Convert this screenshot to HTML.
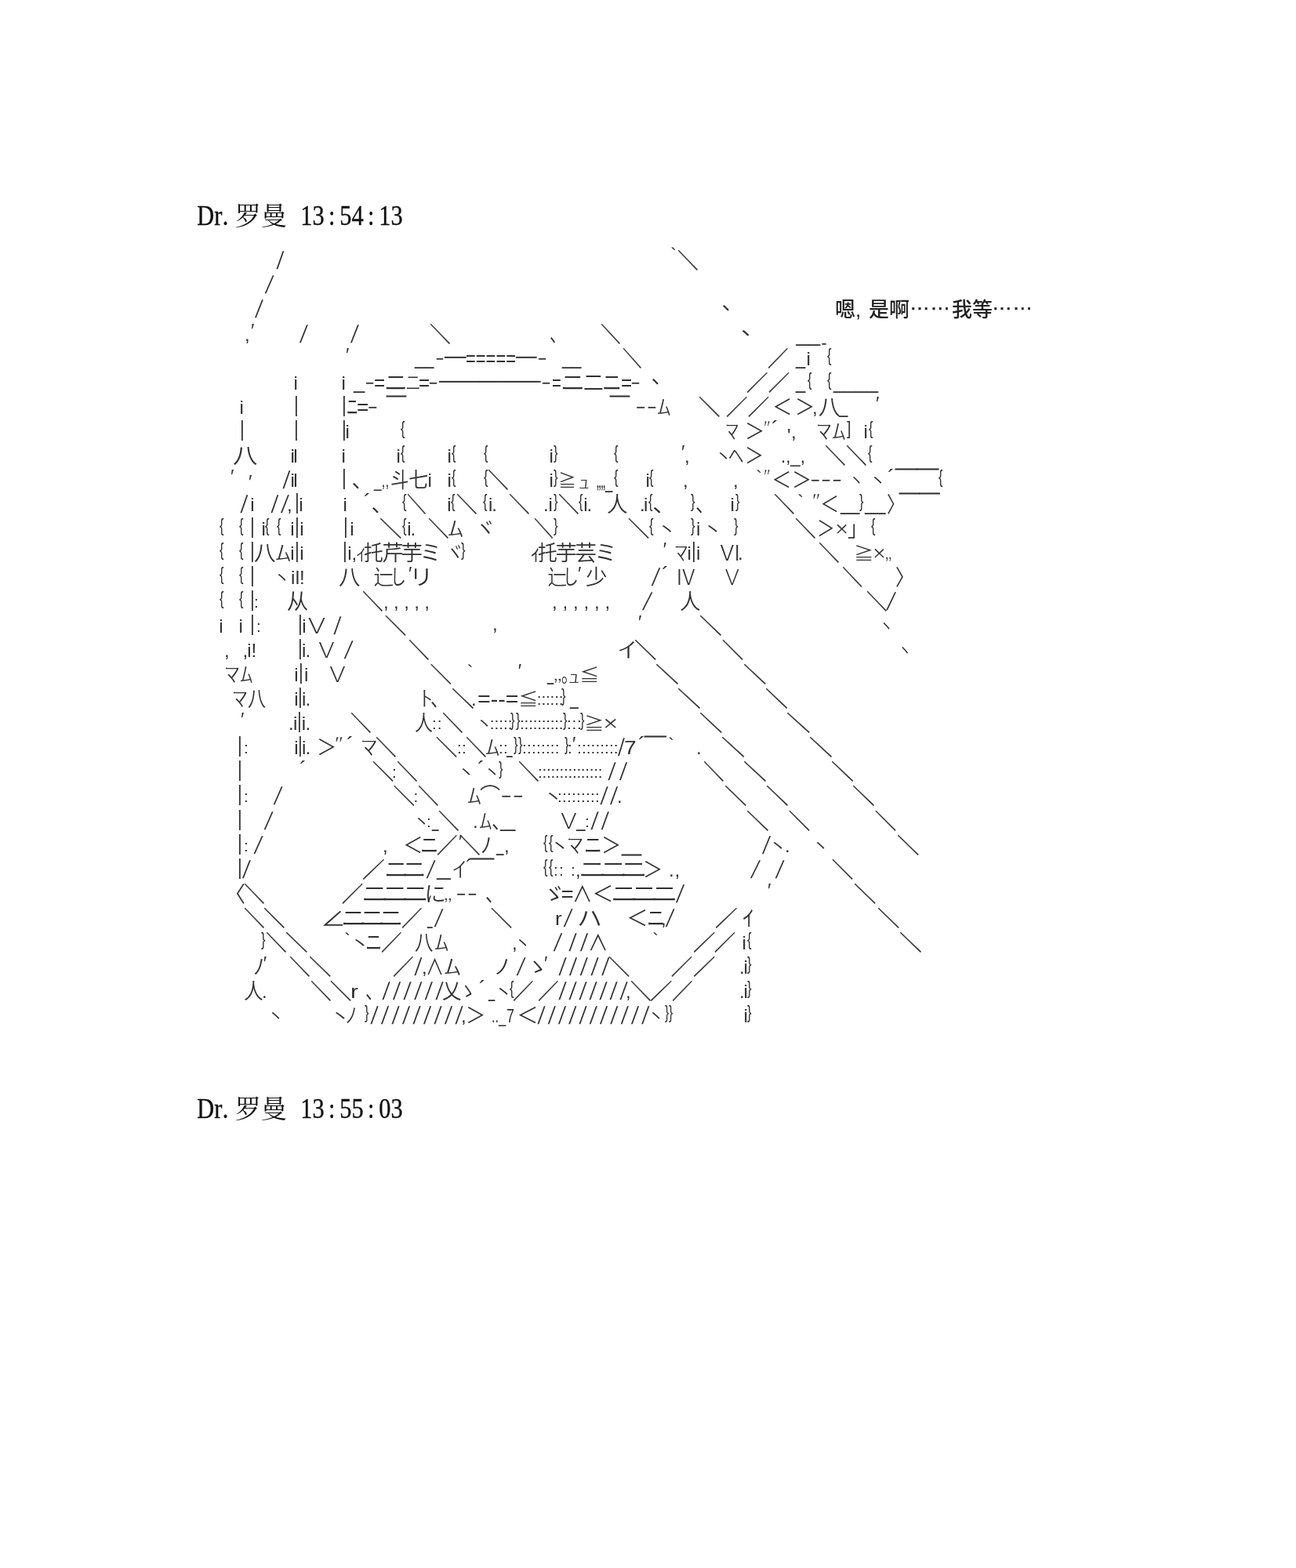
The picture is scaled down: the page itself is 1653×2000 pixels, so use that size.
<!DOCTYPE html>
<html lang="zh">
<head>
<meta charset="utf-8">
<title>Dr.罗曼</title>
<style>
html,body{margin:0;padding:0;background:#fff;}
body{width:1653px;height:2000px;position:relative;overflow:hidden;}
#aa{position:absolute;left:0;top:0;width:1653px;height:2000px;font-family:"Liberation Sans","Noto Sans CJK JP",sans-serif;font-weight:350;font-size:27.6px;line-height:31px;color:#303030;filter:blur(0.4px);}
#aa span{position:absolute;white-space:pre;transform-origin:0 50%;}
#aa .k{-webkit-text-stroke:0.3px #303030;}
#aa .e{-webkit-text-stroke:0.4px #fff;}
#aa .m{-webkit-text-stroke:1px #303030;}
.hd{position:absolute;left:250px;font-family:"Liberation Serif","Noto Serif CJK SC",serif;font-weight:400;font-size:33px;line-height:40px;color:#111;white-space:pre;filter:blur(0.4px);}
.hd span{display:inline-block;text-align:center;}
.hd .c{font-weight:400;transform:scale(.92,1.08);transform-origin:50% 80%;-webkit-text-stroke:0.35px #111;}
.say{position:absolute;left:1065px;top:379px;font-family:"Liberation Sans","Noto Sans CJK SC",sans-serif;font-weight:500;font-size:26px;line-height:32px;color:#222;white-space:pre;filter:blur(0.4px);}
.say span{position:absolute;top:0;}
.say .el{top:-9px;letter-spacing:0.2px;-webkit-text-stroke:0.4px #222;}
</style>
</head>
<body>
<div class="hd" style="top:256px"><span class="c" style="width:33.10px">Dr</span><span class="c" style="width:16.55px;text-align:left">.</span><span class="z" style="width:66.20px">罗曼</span><span class="c" style="width:16.55px"> </span><span class="c" style="width:33.10px">13</span><span class="c" style="width:16.55px">:</span><span class="c" style="width:33.10px">54</span><span class="c" style="width:16.55px">:</span><span class="c" style="width:33.10px">13</span></div>
<div class="hd" style="top:1394.5px"><span class="c" style="width:33.10px">Dr</span><span class="c" style="width:16.55px;text-align:left">.</span><span class="z" style="width:66.20px">罗曼</span><span class="c" style="width:16.55px"> </span><span class="c" style="width:33.10px">13</span><span class="c" style="width:16.55px">:</span><span class="c" style="width:33.10px">55</span><span class="c" style="width:16.55px">:</span><span class="c" style="width:33.10px">03</span></div>
<div class="say"><span style="left:0">嗯</span><span style="left:26px">,</span><span style="left:43px">是啊</span><span class="el" style="left:95px">……</span><span style="left:149px">我等</span><span class="el" style="left:200px">……</span></div>
<div id="aa">
<span style="left:353.7px;top:317.3px;font-size:23.5px;transform:scale(1.000,1.340) skewX(-11.0702deg)">/</span>
<span class="k" style="left:864.2px;top:317.3px;transform:scaleX(0.966)">＼</span>
<span style="left:854.9px;top:309.3px;font-size:24.0px">`</span>
<span style="left:339.7px;top:348.4px;font-size:23.5px;transform:scale(1.000,1.340) skewX(-17.3067deg)">/</span>
<span style="left:327.2px;top:379.4px;font-size:23.5px;transform:scale(1.000,1.340) skewX(-14.2315deg)">/</span>
<span style="left:920.6px;top:370.4px">、</span>
<span style="left:320.1px;top:406.5px;font-size:23.5px">′</span>
<span style="left:311.9px;top:410.5px;font-size:24.0px">,</span>
<span style="left:384.2px;top:410.5px;font-size:23.5px;transform:scale(1.000,1.340) skewX(-14.2315deg)">/</span>
<span style="left:449.2px;top:410.5px;font-size:23.5px;transform:scale(1.000,1.340) skewX(-14.2315deg)">/</span>
<span class="k" style="left:548.2px;top:410.5px;transform:scaleX(0.966)">＼</span>
<span style="left:701.0px;top:410.5px;transform:scaleX(0.750)">、</span>
<span class="k" style="left:766.2px;top:410.5px;transform:scaleX(0.928)">＼</span>
<span style="left:944.5px;top:401.5px;transform:scaleX(1.125)">、</span>
<span style="left:1015.5px;top:409.5px">__</span>
<span class="e" style="left:1047.0px;top:420.5px;transform:scaleX(0.873)">-</span>
<span style="left:441.1px;top:437.5px;font-size:23.5px">′</span>
<span style="left:529.4px;top:438.5px;transform:scaleX(0.791)">__</span>
<span class="e" style="left:554.5px;top:439.5px;transform:scaleX(1.309)">-</span>
<span style="left:567.4px;top:438.5px;transform:scaleX(1.400)">─</span>
<span style="left:594.0px;top:441.5px;transform:scaleX(0.794)">=====</span>
<span style="left:658.3px;top:438.5px;transform:scaleX(1.350)">─</span>
<span class="e" style="left:685.4px;top:439.5px;transform:scaleX(1.455)">-</span>
<span style="left:717.4px;top:438.5px;transform:scaleX(0.791)">__</span>
<span class="k" style="left:794.2px;top:441.5px;transform:scaleX(0.889)">＼</span>
<span class="k" style="left:979.2px;top:441.5px;transform:scaleX(0.966)">／</span>
<span style="left:1015.4px;top:438.5px;transform:scaleX(0.800)">_</span>
<span style="left:1028.5px;top:441.5px;font-size:24.0px">i</span>
<span style="left:1054.7px;top:436.5px;font-size:24.0px;transform:scaleX(0.690)">{</span>
<span style="left:374.5px;top:472.6px;font-size:24.0px">i</span>
<span style="left:435.5px;top:472.6px;font-size:24.0px">i</span>
<span style="left:450.5px;top:469.6px;transform:scaleX(0.923)">_</span>
<span class="e" style="left:465.4px;top:470.6px;transform:scaleX(1.455)">-</span>
<span style="left:476.9px;top:472.6px;transform:scaleX(0.881)">=</span>
<span style="left:490.3px;top:472.6px;transform:scaleX(1.091)">ニ</span>
<span style="left:517.2px;top:472.6px;transform:scaleX(1.407);font-weight:300">ﾆ</span>
<span style="left:533.9px;top:472.6px;transform:scaleX(0.881)">=</span>
<span class="e" style="left:546.4px;top:470.6px;transform:scaleX(1.455)">-</span>
<span style="left:560.3px;top:469.6px;transform:scaleX(1.324)">─────</span>
<span class="e" style="left:690.4px;top:470.6px;transform:scaleX(1.455)">-</span>
<span style="left:704.1px;top:472.6px;transform:scaleX(0.734)">=</span>
<span style="left:715.2px;top:472.6px;transform:scaleX(1.136)">ニ</span>
<span style="left:743.6px;top:472.6px;transform:scaleX(0.934)">二</span>
<span style="left:767.7px;top:472.6px;transform:scaleX(0.909)">ニ</span>
<span style="left:791.9px;top:472.6px;transform:scaleX(0.881)">=</span>
<span class="e" style="left:804.4px;top:470.6px;transform:scaleX(1.455)">-</span>
<span style="left:830.6px;top:463.6px">、</span>
<span class="k" style="left:952.1px;top:472.6px">／／</span>
<span style="left:1015.4px;top:469.6px;transform:scaleX(0.800)">_</span>
<span style="left:1029.7px;top:467.6px;font-size:24.0px;transform:scaleX(0.690)">{</span>
<span style="left:1054.7px;top:467.6px;font-size:24.0px;transform:scaleX(0.690)">{</span>
<span style="left:1062.5px;top:469.6px;transform:scaleX(0.931)">____</span>
<span style="left:305.5px;top:503.6px;font-size:24.0px">i</span>
<span style="left:375.1px;top:499.6px;transform:scaleX(0.800)">|</span>
<span style="left:436.1px;top:499.6px;transform:scaleX(0.800)">|</span>
<span style="left:441.7px;top:503.6px;transform:scaleX(1.055)">ﾆ</span>
<span style="left:454.8px;top:503.6px;transform:scaleX(0.954)">=</span>
<span class="e" style="left:468.2px;top:501.6px;transform:scaleX(1.600)">-</span>
<span class="m" style="left:493.0px;top:503.6px;transform:scaleX(0.905)">￣</span>
<span class="m" style="left:778.0px;top:503.6px;transform:scaleX(0.905)">￣</span>
<span class="e" style="left:810.2px;top:501.6px;transform:scaleX(1.556)">--</span>
<span style="left:838.2px;top:503.6px;transform:scaleX(1.293);font-weight:300">ﾑ</span>
<span class="k" style="left:891.1px;top:503.6px">＼</span>
<span class="k" style="left:926.1px;top:503.6px">／／</span>
<span style="left:985.3px;top:503.6px;transform:scaleX(0.925)">＜</span>
<span style="left:1014.1px;top:503.6px;transform:scaleX(0.925)">＞</span>
<span style="left:1035.9px;top:503.6px;font-size:24.0px">,</span>
<span style="left:1043.9px;top:503.6px">八</span>
<span style="left:1070.4px;top:500.6px;transform:scaleX(0.738)">_</span>
<span style="left:1117.1px;top:499.6px;font-size:23.5px">′</span>
<span style="left:306.1px;top:530.6px;transform:scaleX(0.800)">|</span>
<span style="left:375.1px;top:530.6px;transform:scaleX(0.800)">|</span>
<span style="left:436.1px;top:530.6px;transform:scaleX(0.800)">|</span>
<span style="left:440.4px;top:534.6px;font-size:24.0px">i</span>
<span style="left:510.7px;top:529.6px;font-size:24.0px;transform:scaleX(0.690)">{</span>
<span style="left:925.4px;top:534.6px;transform:scaleX(1.263);font-weight:300">ﾏ</span>
<span style="left:950.1px;top:534.6px;transform:scaleX(0.925)">＞</span>
<span class="e" style="left:974.1px;top:530.6px;font-size:23.5px">″</span>
<span style="left:984.1px;top:530.6px">´</span>
<span style="left:1003.9px;top:539.6px;font-size:24.0px">&#x27;</span>
<span style="left:1008.9px;top:534.6px;font-size:24.0px">,</span>
<span style="left:1041.2px;top:534.6px;transform:scaleX(1.432);font-weight:300">ﾏ</span>
<span style="left:1061.2px;top:534.6px;transform:scaleX(1.293);font-weight:300">ﾑ</span>
<span style="left:1079.9px;top:529.6px;font-size:24.0px;transform:scaleX(0.821)">]</span>
<span style="left:1101.5px;top:534.6px;font-size:24.0px">i</span>
<span style="left:1107.7px;top:529.6px;font-size:24.0px;transform:scaleX(0.690)">{</span>
<span style="left:296.7px;top:565.7px;transform:scaleX(1.143)">八</span>
<span style="left:370.5px;top:565.7px;font-size:24.0px">i</span>
<span style="left:374.2px;top:565.7px;font-size:24.0px">l</span>
<span style="left:435.5px;top:565.7px;font-size:24.0px">i</span>
<span style="left:505.5px;top:565.7px;font-size:24.0px">i</span>
<span style="left:510.7px;top:560.7px;font-size:24.0px;transform:scaleX(0.690)">{</span>
<span style="left:570.5px;top:565.7px;font-size:24.0px">i</span>
<span style="left:575.7px;top:560.7px;font-size:24.0px;transform:scaleX(0.690)">{</span>
<span style="left:616.7px;top:560.7px;font-size:24.0px;transform:scaleX(0.690)">{</span>
<span style="left:700.5px;top:565.7px;font-size:24.0px">i</span>
<span style="left:705.7px;top:560.7px;font-size:24.0px;transform:scaleX(0.690)">}</span>
<span style="left:782.7px;top:560.7px;font-size:24.0px;transform:scaleX(0.690)">{</span>
<span style="left:869.1px;top:561.7px;font-size:23.5px">′</span>
<span style="left:872.9px;top:565.7px;font-size:24.0px">,</span>
<span style="left:911.4px;top:565.7px;transform:scale(0.808,0.680)">ヽ</span>
<span style="left:929.3px;top:565.7px;transform:scaleX(1.426);font-weight:300">ﾍ</span>
<span style="left:950.3px;top:565.7px;transform:scaleX(0.879)">＞</span>
<span style="left:996.0px;top:565.7px;font-size:24.0px;transform:scaleX(0.925)">.,_,</span>
<span class="k" style="left:1052.2px;top:565.7px;transform:scaleX(0.966)">＼</span>
<span class="k" style="left:1079.2px;top:565.7px;transform:scaleX(0.966)">＼</span>
<span style="left:1106.7px;top:560.7px;font-size:24.0px;transform:scaleX(0.690)">{</span>
<span style="left:294.1px;top:592.8px;font-size:23.5px">′</span>
<span style="left:317.1px;top:599.8px;font-size:23.5px">′</span>
<span style="left:361.7px;top:596.8px;font-size:23.5px;transform:scale(1.000,1.340) skewX(-11.0702deg)">/</span>
<span style="left:370.5px;top:596.8px;font-size:24.0px">i</span>
<span style="left:374.2px;top:596.8px;font-size:24.0px">l</span>
<span style="left:436.1px;top:592.8px;transform:scaleX(0.800)">|</span>
<span style="left:448.6px;top:596.8px">、</span>
<span style="left:477.3px;top:596.8px;font-size:24.0px;transform:scaleX(0.719)">_,,</span>
<span style="left:497.6px;top:596.8px;transform:scaleX(0.857)">斗</span>
<span style="left:520.7px;top:596.8px;transform:scaleX(0.920)">七</span>
<span style="left:545.5px;top:596.8px;font-size:24.0px">i</span>
<span style="left:570.5px;top:596.8px;font-size:24.0px">i</span>
<span style="left:575.7px;top:591.8px;font-size:24.0px;transform:scaleX(0.690)">{</span>
<span style="left:616.7px;top:591.8px;font-size:24.0px;transform:scaleX(0.690)">{</span>
<span class="k" style="left:622.2px;top:596.8px;transform:scaleX(0.966)">＼</span>
<span style="left:700.5px;top:596.8px;font-size:24.0px">i</span>
<span style="left:705.7px;top:591.8px;font-size:24.0px;transform:scaleX(0.690)">}</span>
<span style="left:712.3px;top:596.8px;transform:scale(0.837,0.760)">≧</span>
<span style="left:736.6px;top:598.8px;transform:scale(1.143,0.800);font-weight:300">ｭ</span>
<span style="left:761.4px;top:596.8px;transform:scaleX(0.604)">„„_</span>
<span style="left:782.7px;top:591.8px;font-size:24.0px;transform:scaleX(0.690)">{</span>
<span style="left:823.5px;top:596.8px;font-size:24.0px">i</span>
<span style="left:827.7px;top:591.8px;font-size:24.0px;transform:scaleX(0.690)">{</span>
<span style="left:870.9px;top:596.8px;font-size:24.0px">,</span>
<span style="left:934.9px;top:596.8px;font-size:24.0px">,</span>
<span style="left:963.9px;top:592.8px;font-size:24.0px">`</span>
<span class="e" style="left:974.1px;top:592.8px;font-size:23.5px">″</span>
<span style="left:984.3px;top:596.8px;transform:scaleX(0.925)">＜</span>
<span style="left:1010.1px;top:596.8px;transform:scaleX(0.925)">＞</span>
<span class="e" style="left:1033.3px;top:594.8px;transform:scaleX(1.505)">---</span>
<span style="left:1082.1px;top:596.8px;transform:scale(0.727,0.680)">ヽ</span>
<span style="left:1108.4px;top:596.8px;transform:scale(0.808,0.680)">ヽ</span>
<span style="left:1132.1px;top:592.8px">´</span>
<span class="m" style="left:1142.0px;top:596.8px">￣￣</span>
<span style="left:1196.7px;top:591.8px;font-size:24.0px;transform:scaleX(0.690)">{</span>
<span style="left:308.4px;top:627.8px;font-size:23.5px;transform:scale(1.000,1.340) skewX(-11.0702deg)">/</span>
<span style="left:319.2px;top:627.8px;font-size:24.0px">i</span>
<span style="left:346.7px;top:627.8px;font-size:23.5px;transform:scale(1.000,1.340) skewX(-11.0702deg)">/</span>
<span style="left:360.2px;top:627.8px;font-size:23.5px;transform:scale(1.000,1.340) skewX(-14.2315deg)">/</span>
<span style="left:365.9px;top:627.8px;font-size:24.0px">,</span>
<span style="left:376.1px;top:623.8px;transform:scaleX(0.800)">|</span>
<span style="left:381.2px;top:627.8px;font-size:24.0px">i</span>
<span style="left:437.5px;top:627.8px;font-size:24.0px">i</span>
<span style="left:464.1px;top:623.8px">´</span>
<span style="left:473.6px;top:627.8px">、</span>
<span style="left:512.7px;top:622.8px;font-size:24.0px;transform:scaleX(0.690)">{</span>
<span class="k" style="left:519.2px;top:627.8px;transform:scaleX(0.889)">＼</span>
<span style="left:570.2px;top:627.8px;font-size:24.0px">i</span>
<span style="left:574.7px;top:622.8px;font-size:24.0px;transform:scaleX(0.690)">{</span>
<span class="k" style="left:582.2px;top:627.8px;transform:scaleX(0.966)">＼</span>
<span style="left:616.4px;top:622.8px;font-size:24.0px;transform:scaleX(0.690)">{</span>
<span style="left:622.9px;top:627.8px;font-size:24.0px">i</span>
<span style="left:627.2px;top:627.8px;font-size:24.0px">.</span>
<span class="k" style="left:649.2px;top:627.8px;transform:scaleX(0.966)">＼</span>
<span style="left:692.9px;top:627.8px;font-size:24.0px">.</span>
<span style="left:699.4px;top:627.8px;font-size:24.0px">i</span>
<span style="left:706.4px;top:622.8px;font-size:24.0px;transform:scaleX(0.690)">}</span>
<span class="k" style="left:712.2px;top:627.8px;transform:scaleX(0.966)">＼</span>
<span style="left:737.7px;top:622.8px;font-size:24.0px;transform:scaleX(0.690)">{</span>
<span style="left:744.2px;top:627.8px;font-size:24.0px">i</span>
<span style="left:748.5px;top:627.8px;font-size:24.0px">.</span>
<span style="left:774.2px;top:627.8px;transform:scaleX(0.962)">人</span>
<span style="left:815.9px;top:627.8px;font-size:24.0px">.</span>
<span style="left:821.1px;top:627.8px;font-size:24.0px">i</span>
<span style="left:826.7px;top:622.8px;font-size:24.0px;transform:scaleX(0.690)">{</span>
<span style="left:831.5px;top:627.8px;transform:scaleX(1.125)">、</span>
<span style="left:881.4px;top:622.8px;font-size:24.0px;transform:scaleX(0.690)">}</span>
<span style="left:886.8px;top:627.8px;transform:scaleX(0.875)">、</span>
<span style="left:931.5px;top:627.8px;font-size:24.0px">i</span>
<span style="left:937.7px;top:622.8px;font-size:24.0px;transform:scaleX(0.690)">}</span>
<span class="k" style="left:987.2px;top:627.8px;transform:scaleX(0.966)">＼</span>
<span style="left:1016.9px;top:623.8px;font-size:24.0px">`</span>
<span class="e" style="left:1035.7px;top:623.8px;font-size:23.5px;transform:scaleX(1.186)">″</span>
<span style="left:1045.5px;top:627.8px;transform:scaleX(0.879)">＜</span>
<span style="left:1072.1px;top:624.8px;transform:scaleX(0.791)">__</span>
<span style="left:1096.4px;top:622.8px;font-size:24.0px;transform:scaleX(0.690)">}</span>
<span style="left:1103.3px;top:624.8px;transform:scaleX(0.575)">___</span>
<span style="left:1130.5px;top:627.8px;transform:scaleX(0.841)">〉</span>
<span class="m" style="left:1146.7px;top:627.8px;transform:scaleX(0.929)">￣￣</span>
<span style="left:279.7px;top:653.9px;font-size:24.0px;transform:scaleX(0.690)">{</span>
<span style="left:304.7px;top:653.9px;font-size:24.0px;transform:scaleX(0.690)">{</span>
<span style="left:318.8px;top:654.9px;transform:scaleX(0.800)">|</span>
<span style="left:333.5px;top:658.9px;font-size:24.0px">i</span>
<span style="left:337.7px;top:653.9px;font-size:24.0px;transform:scaleX(0.690)">{</span>
<span style="left:352.7px;top:653.9px;font-size:24.0px;transform:scaleX(0.690)">{</span>
<span style="left:370.2px;top:658.9px;font-size:24.0px">i</span>
<span style="left:376.0px;top:654.9px;transform:scaleX(0.800)">|</span>
<span style="left:382.2px;top:658.9px;font-size:24.0px">i</span>
<span style="left:438.1px;top:654.9px;transform:scaleX(0.800)">|</span>
<span style="left:446.2px;top:658.9px;font-size:24.0px">i</span>
<span class="k" style="left:484.1px;top:658.9px;transform:scaleX(1.032)">＼</span>
<span style="left:512.7px;top:653.9px;font-size:24.0px;transform:scaleX(0.690)">{</span>
<span style="left:519.2px;top:658.9px;font-size:24.0px">i</span>
<span style="left:523.5px;top:658.9px;font-size:24.0px">.</span>
<span class="k" style="left:545.9px;top:658.9px;transform:scaleX(0.966)">＼</span>
<span style="left:570.8px;top:658.9px;transform:scaleX(1.479);font-weight:300">ﾑ</span>
<span style="left:605.8px;top:658.9px;transform:scaleX(0.957)">ヾ</span>
<span class="k" style="left:680.9px;top:658.9px;transform:scaleX(0.900)">＼</span>
<span style="left:705.7px;top:653.9px;font-size:24.0px;transform:scaleX(0.690)">}</span>
<span class="k" style="left:800.8px;top:658.9px">＼</span>
<span style="left:827.7px;top:653.9px;font-size:24.0px;transform:scaleX(0.690)">{</span>
<span style="left:837.3px;top:658.9px;transform:scale(0.945,0.680)">ヽ</span>
<span style="left:881.4px;top:653.9px;font-size:24.0px;transform:scaleX(0.690)">}</span>
<span style="left:888.0px;top:658.9px;font-size:24.0px">i</span>
<span style="left:895.1px;top:658.9px;transform:scale(0.970,0.680)">ヽ</span>
<span style="left:936.4px;top:653.9px;font-size:24.0px;transform:scaleX(0.690)">}</span>
<span class="k" style="left:1014.2px;top:658.9px;transform:scaleX(0.966)">＼</span>
<span style="left:1042.4px;top:658.9px;transform:scaleX(0.832)">＞</span>
<span class="e" style="left:1064.7px;top:658.9px;transform:scaleX(1.075)">×</span>
<span style="left:1080.9px;top:658.9px;transform:scaleX(0.949)">｣</span>
<span style="left:1111.4px;top:653.9px;font-size:24.0px;transform:scaleX(0.690)">{</span>
<span style="left:279.7px;top:684.9px;font-size:24.0px;transform:scaleX(0.690)">{</span>
<span style="left:304.7px;top:684.9px;font-size:24.0px;transform:scaleX(0.690)">{</span>
<span style="left:318.8px;top:685.9px;transform:scaleX(0.800)">|</span>
<span style="left:323.9px;top:689.9px">八</span>
<span style="left:350.8px;top:689.9px;transform:scaleX(1.479);font-weight:300">ﾑ</span>
<span style="left:370.2px;top:689.9px;font-size:24.0px">i</span>
<span style="left:376.0px;top:685.9px;transform:scaleX(0.800)">|</span>
<span style="left:382.2px;top:689.9px;font-size:24.0px">i</span>
<span style="left:437.4px;top:685.9px;transform:scaleX(0.800)">|</span>
<span style="left:443.2px;top:689.9px;font-size:24.0px">i</span>
<span style="left:448.4px;top:689.9px;font-size:24.0px">,</span>
<span style="left:453.0px;top:689.9px;transform:scaleX(1.159);font-weight:300">ｨ</span>
<span style="left:464.2px;top:689.9px;transform:scaleX(0.898)">托</span>
<span style="left:487.3px;top:689.9px">芹</span>
<span style="left:511.5px;top:689.9px">芋</span>
<span style="left:535.6px;top:689.9px">ミ</span>
<span style="left:568.8px;top:689.9px;transform:scaleX(0.821)">ヾ</span>
<span style="left:587.7px;top:684.9px;font-size:24.0px;transform:scaleX(0.690)">}</span>
<span style="left:676.2px;top:689.9px;transform:scaleX(1.043)">ｨ</span>
<span style="left:686.2px;top:689.9px;transform:scaleX(0.898)">托</span>
<span style="left:708.5px;top:689.9px">芋</span>
<span style="left:733.6px;top:689.9px">芸</span>
<span style="left:758.4px;top:689.9px;transform:scaleX(1.056)">ミ</span>
<span style="left:845.8px;top:685.9px;font-size:23.5px">′</span>
<span style="left:860.1px;top:689.9px;transform:scaleX(1.263);font-weight:300">ﾏ</span>
<span style="left:876.5px;top:689.9px;font-size:24.0px">i</span>
<span style="left:882.0px;top:685.9px;transform:scaleX(0.800)">|</span>
<span style="left:888.0px;top:689.9px;font-size:24.0px">i</span>
<span style="left:915.7px;top:689.9px;transform:scaleX(1.135);font-weight:300">Ⅵ</span>
<span style="left:940.9px;top:689.9px;font-size:24.0px">.</span>
<span class="k" style="left:1044.2px;top:689.9px;transform:scaleX(0.966)">＼</span>
<span style="left:1088.7px;top:689.9px;transform:scale(0.930,0.760)">≧</span>
<span class="e" style="left:1113.0px;top:689.9px;transform:scaleX(1.051)">×</span>
<span class="e" style="left:1129.2px;top:689.9px;font-size:23.5px;transform:scaleX(1.072)">„</span>
<span style="left:279.7px;top:716.0px;font-size:24.0px;transform:scaleX(0.690)">{</span>
<span style="left:304.7px;top:716.0px;font-size:24.0px;transform:scaleX(0.690)">{</span>
<span style="left:318.8px;top:717.0px;transform:scaleX(0.800)">|</span>
<span style="left:348.4px;top:721.0px;transform:scale(0.808,0.680)">ヽ</span>
<span style="left:371.0px;top:721.0px;font-size:24.0px">i</span>
<span style="left:376.8px;top:721.0px;font-size:24.0px">l</span>
<span style="left:382.0px;top:721.0px;font-size:24.0px">!</span>
<span style="left:431.9px;top:721.0px">八</span>
<span style="left:475.9px;top:721.0px;transform:scaleX(0.941)">辷</span>
<span style="left:498.2px;top:721.0px;transform:scaleX(0.717)">し</span>
<span style="left:521.1px;top:717.0px;font-size:23.5px">′</span>
<span style="left:522.2px;top:721.0px;transform:scaleX(1.115)">リ</span>
<span style="left:698.0px;top:721.0px;transform:scaleX(0.902)">辷</span>
<span style="left:718.2px;top:721.0px;transform:scaleX(0.717)">し</span>
<span style="left:737.1px;top:717.0px;font-size:23.5px">′</span>
<span style="left:747.0px;top:721.0px">少</span>
<span style="left:832.5px;top:721.0px;font-size:23.5px;transform:scale(1.000,1.340) skewX(-16.394deg)">/</span>
<span style="left:844.1px;top:717.0px">´</span>
<span style="left:860.1px;top:721.0px;transform:scaleX(1.040);font-weight:300">Ⅳ</span>
<span style="left:920.1px;top:721.0px;font-weight:300">Ｖ</span>
<span class="k" style="left:1074.2px;top:721.0px;transform:scaleX(0.947)">＼</span>
<span style="left:1141.8px;top:721.0px;transform:scaleX(0.881)">〉</span>
<span style="left:279.7px;top:747.0px;font-size:24.0px;transform:scaleX(0.690)">{</span>
<span style="left:304.7px;top:747.0px;font-size:24.0px;transform:scaleX(0.690)">{</span>
<span style="left:318.8px;top:748.0px;transform:scaleX(0.800)">|</span>
<span style="left:324.1px;top:752.0px;font-size:20.7px">:</span>
<span style="left:365.7px;top:752.0px">从</span>
<span class="k" style="left:462.2px;top:752.0px;transform:scaleX(0.966)">＼</span>
<span style="left:488.9px;top:752.0px;font-size:24.0px;letter-spacing:6.45px">,,,,,</span>
<span style="left:703.9px;top:752.0px;font-size:24.0px;letter-spacing:6.83px">,,,,,,</span>
<span style="left:821.5px;top:752.0px;font-size:23.5px;transform:scale(1.000,1.340) skewX(-22.3007deg)">/</span>
<span style="left:867.2px;top:752.0px;transform:scaleX(0.962)">人</span>
<span class="k" style="left:1105.2px;top:752.0px;transform:scaleX(0.966)">＼</span>
<span style="left:1133.2px;top:752.0px;font-size:23.5px;transform:scale(1.000,1.340) skewX(-20.2826deg)">/</span>
<span style="left:279.2px;top:783.0px;font-size:24.0px">i</span>
<span style="left:304.5px;top:783.0px;font-size:24.0px">i</span>
<span style="left:318.8px;top:779.0px;transform:scaleX(0.800)">|</span>
<span style="left:327.1px;top:783.0px;font-size:20.7px">:</span>
<span style="left:379.8px;top:779.0px;transform:scaleX(0.800)">|</span>
<span style="left:385.2px;top:783.0px;font-size:24.0px">i</span>
<span style="left:387.0px;top:783.0px;transform:scaleX(1.231);font-weight:300">Ｖ</span>
<span style="left:426.7px;top:783.0px;font-size:23.5px;transform:scale(1.000,1.340) skewX(-11.0702deg)">/</span>
<span class="k" style="left:490.8px;top:783.0px">＼</span>
<span style="left:627.9px;top:780.0px;font-size:24.0px">,</span>
<span style="left:814.1px;top:779.0px;font-size:23.5px">′</span>
<span class="k" style="left:892.1px;top:783.0px;transform:scaleX(1.043)">＼</span>
<span style="left:1121.3px;top:783.0px;transform:scale(0.671,0.680)">ヽ</span>
<span style="left:285.9px;top:814.1px;font-size:24.0px">,</span>
<span style="left:309.6px;top:814.1px;font-size:24.0px">,</span>
<span style="left:315.2px;top:814.1px;font-size:24.0px">i</span>
<span style="left:320.5px;top:814.1px;font-size:24.0px">!</span>
<span style="left:379.8px;top:810.1px;transform:scaleX(0.800)">|</span>
<span style="left:385.0px;top:814.1px;font-size:24.0px">i</span>
<span style="left:389.5px;top:814.1px;font-size:24.0px">.</span>
<span style="left:401.2px;top:814.1px;transform:scaleX(1.119);font-weight:300">Ｖ</span>
<span style="left:440.7px;top:814.1px;font-size:23.5px;transform:scale(1.000,1.340) skewX(-17.3067deg)">/</span>
<span class="k" style="left:520.9px;top:814.1px;transform:scaleX(0.966)">＼</span>
<span style="left:788.4px;top:814.1px;transform:scaleX(1.818);font-weight:300">ｲ</span>
<span class="k" style="left:809.1px;top:814.1px;transform:scaleX(1.032)">＼</span>
<span class="k" style="left:920.8px;top:814.1px">＼</span>
<span style="left:1144.7px;top:814.1px;transform:scale(0.646,0.680)">ヽ</span>
<span style="left:286.2px;top:845.2px;transform:scaleX(1.432);font-weight:300">ﾏ</span>
<span style="left:305.9px;top:845.2px;transform:scaleX(1.212);font-weight:300">ﾑ</span>
<span style="left:375.2px;top:845.2px;font-size:24.0px">i</span>
<span style="left:381.4px;top:841.2px;transform:scaleX(0.800)">|</span>
<span style="left:387.9px;top:845.2px;font-size:24.0px">i</span>
<span style="left:414.5px;top:845.2px;transform:scaleX(1.119);font-weight:300">Ｖ</span>
<span class="k" style="left:548.4px;top:845.2px">＼</span>
<span style="left:595.6px;top:841.2px;font-size:24.0px">`</span>
<span style="left:660.8px;top:841.2px;font-size:23.5px">′</span>
<span style="left:698.3px;top:842.2px;transform:scaleX(0.535)">_</span>
<span class="e" style="left:705.7px;top:845.2px;font-size:23.5px;transform:scaleX(1.328)">„</span>
<span style="left:716.1px;top:845.2px;transform:scaleX(0.741)">｡</span>
<span style="left:724.2px;top:847.2px;transform:scale(1.174,0.800);font-weight:300">ｭ</span>
<span style="left:739.2px;top:845.2px;transform:scale(0.925,0.760)">≦</span>
<span class="k" style="left:836.1px;top:845.2px;transform:scaleX(1.082)">＼</span>
<span class="k" style="left:948.1px;top:845.2px;transform:scaleX(1.071)">＼</span>
<span style="left:296.2px;top:876.2px;transform:scaleX(1.432);font-weight:300">ﾏ</span>
<span style="left:315.8px;top:876.2px;transform:scaleX(0.839)">八</span>
<span style="left:375.2px;top:876.2px;font-size:24.0px">i</span>
<span style="left:379.9px;top:872.2px;transform:scaleX(0.800)">|</span>
<span style="left:385.0px;top:876.2px;font-size:24.0px">i</span>
<span style="left:389.5px;top:876.2px;font-size:24.0px">.</span>
<span style="left:534.8px;top:876.2px;transform:scaleX(1.290);font-weight:300">ﾄ</span>
<span style="left:548.8px;top:876.2px;transform:scaleX(0.838)">、</span>
<span class="k" style="left:576.1px;top:876.2px;transform:scaleX(1.043)">＼</span>
<span style="left:600.9px;top:876.2px;font-size:24.0px">.</span>
<span style="left:608.7px;top:876.2px;transform:scaleX(1.039)">=--=</span>
<span style="left:660.5px;top:876.2px;transform:scale(0.925,0.760)">≦</span>
<span style="left:684.8px;top:876.2px;font-size:20.7px;letter-spacing:-0.15px">::::::</span>
<span style="left:716.4px;top:871.2px;font-size:24.0px;transform:scaleX(0.690)">}</span>
<span style="left:727.0px;top:873.2px;transform:scaleX(0.695)">_</span>
<span class="k" style="left:864.1px;top:876.2px;transform:scaleX(1.082)">＼</span>
<span class="k" style="left:975.8px;top:876.2px;transform:scaleX(1.055)">＼</span>
<span style="left:307.1px;top:903.2px;font-size:23.5px">′</span>
<span style="left:367.9px;top:907.2px;font-size:24.0px">.</span>
<span style="left:374.1px;top:907.2px;font-size:24.0px">i</span>
<span style="left:379.1px;top:903.2px;transform:scaleX(0.800)">|</span>
<span style="left:384.7px;top:907.2px;font-size:24.0px">i</span>
<span style="left:389.5px;top:907.2px;font-size:24.0px">.</span>
<span class="k" style="left:447.2px;top:907.2px;transform:scaleX(0.966)">＼</span>
<span style="left:529.3px;top:907.2px;transform:scaleX(0.835)">人</span>
<span style="left:551.1px;top:907.2px;font-size:20.7px;letter-spacing:0.95px">::</span>
<span class="k" style="left:564.2px;top:907.2px;transform:scaleX(0.966)">＼</span>
<span style="left:606.4px;top:907.2px;transform:scale(0.808,0.680)">ヽ</span>
<span style="left:624.8px;top:907.2px;font-size:20.7px">:::::</span>
<span style="left:651.4px;top:902.2px;font-size:24.0px;transform:scaleX(0.690)">}</span>
<span style="left:657.7px;top:902.2px;font-size:24.0px;transform:scaleX(0.690)">}</span>
<span style="left:663.1px;top:907.2px;font-size:20.7px;letter-spacing:-0.23px">::::::::::</span>
<span style="left:717.7px;top:902.2px;font-size:24.0px;transform:scaleX(0.690)">}</span>
<span style="left:723.1px;top:907.2px;font-size:20.7px;letter-spacing:0.75px">:::</span>
<span style="left:739.7px;top:902.2px;font-size:24.0px;transform:scaleX(0.690)">}</span>
<span style="left:745.0px;top:907.2px;transform:scale(0.930,0.760)">≧</span>
<span class="e" style="left:769.4px;top:907.2px;transform:scaleX(1.212)">×</span>
<span class="k" style="left:892.1px;top:907.2px;transform:scaleX(1.071)">＼</span>
<span class="k" style="left:1003.0px;top:907.2px;transform:scaleX(1.109)">＼</span>
<span style="left:303.1px;top:934.3px;transform:scaleX(0.800)">|</span>
<span style="left:311.1px;top:938.3px;font-size:20.7px">:</span>
<span style="left:375.2px;top:938.3px;font-size:24.0px">i</span>
<span style="left:379.9px;top:934.3px;transform:scaleX(0.800)">|</span>
<span style="left:385.0px;top:938.3px;font-size:24.0px">i</span>
<span style="left:389.5px;top:938.3px;font-size:24.0px">.</span>
<span style="left:403.8px;top:938.3px;transform:scaleX(0.925)">＞</span>
<span class="e" style="left:426.9px;top:934.3px;font-size:23.5px;transform:scaleX(1.243)">″</span>
<span style="left:442.1px;top:934.3px">´</span>
<span style="left:459.8px;top:938.3px;transform:scaleX(1.541);font-weight:300">ﾏ</span>
<span class="k" style="left:479.2px;top:938.3px;transform:scaleX(0.966)">＼</span>
<span class="k" style="left:555.8px;top:938.3px">＼</span>
<span style="left:583.1px;top:938.3px;font-size:20.7px;letter-spacing:0.25px">::</span>
<span class="k" style="left:594.2px;top:938.3px;transform:scaleX(0.966)">＼</span>
<span style="left:619.2px;top:938.3px;transform:scaleX(1.349);font-weight:300">ﾑ</span>
<span style="left:636.1px;top:938.3px;font-size:20.7px;letter-spacing:0.25px">::</span>
<span style="left:646.2px;top:935.3px;transform:scaleX(0.492)">_</span>
<span style="left:654.7px;top:933.3px;font-size:24.0px;transform:scaleX(0.690)">}</span>
<span style="left:661.4px;top:933.3px;font-size:24.0px;transform:scaleX(0.690)">}</span>
<span style="left:666.1px;top:938.3px;font-size:20.7px;letter-spacing:0.21px">::::::::</span>
<span style="left:719.7px;top:933.3px;font-size:24.0px;transform:scaleX(0.690)">}</span>
<span style="left:724.1px;top:938.3px;font-size:20.7px">:</span>
<span style="left:730.1px;top:934.3px;font-size:23.5px">′</span>
<span style="left:736.1px;top:938.3px;font-size:20.7px;letter-spacing:0.09px">:::::::::</span>
<span style="left:789.2px;top:938.3px;font-size:23.5px;transform:scale(1.000,1.340) skewX(-7.83926deg)">/</span>
<span style="left:795.7px;top:938.3px;font-size:24.0px;transform:scaleX(1.169)">7</span>
<span style="left:814.1px;top:934.3px">´</span>
<span class="m" style="left:822.0px;top:938.3px">￣</span>
<span style="left:851.9px;top:934.3px;font-size:24.0px">`</span>
<span style="left:887.9px;top:938.3px;font-size:24.0px">.</span>
<span class="k" style="left:919.7px;top:938.3px;transform:scaleX(1.094)">＼</span>
<span class="k" style="left:1031.8px;top:938.3px;transform:scaleX(1.082)">＼</span>
<span style="left:303.1px;top:965.4px;transform:scaleX(0.800)">|</span>
<span style="left:382.1px;top:965.4px">´</span>
<span class="k" style="left:474.7px;top:969.4px">＼</span>
<span style="left:500.1px;top:969.4px;font-size:20.7px">:</span>
<span class="k" style="left:506.2px;top:969.4px;transform:scaleX(0.966)">＼</span>
<span style="left:583.4px;top:969.4px;transform:scale(0.808,0.680)">ヽ</span>
<span style="left:609.1px;top:965.4px">´</span>
<span style="left:616.4px;top:969.4px;transform:scale(0.808,0.680)">ヽ</span>
<span style="left:636.4px;top:964.4px;font-size:24.0px;transform:scaleX(0.690)">}</span>
<span class="k" style="left:660.9px;top:969.4px;transform:scaleX(0.966)">＼</span>
<span style="left:686.1px;top:969.4px;font-size:20.7px;letter-spacing:-0.27px">:::::::::::::::</span>
<span style="left:776.8px;top:969.4px;font-size:23.5px;letter-spacing:8.19px;transform:scale(1.000,1.340) skewX(-12deg)">//</span>
<span class="k" style="left:897.2px;top:969.4px;transform:scaleX(0.966)">＼</span>
<span class="k" style="left:948.1px;top:969.4px;transform:scaleX(1.082)">＼</span>
<span class="k" style="left:1059.8px;top:969.4px;transform:scaleX(1.055)">＼</span>
<span style="left:303.1px;top:996.4px;transform:scaleX(0.800)">|</span>
<span style="left:311.1px;top:1000.4px;font-size:20.7px">:</span>
<span style="left:350.7px;top:1000.4px;font-size:23.5px;transform:scale(1.000,1.340) skewX(-17.3067deg)">/</span>
<span class="k" style="left:501.6px;top:1000.4px">＼</span>
<span style="left:527.6px;top:1000.4px;font-size:20.7px">:</span>
<span class="k" style="left:532.7px;top:1000.4px;transform:scaleX(0.966)">＼</span>
<span style="left:595.9px;top:1000.4px;transform:scaleX(1.317);font-weight:300">ﾑ</span>
<span style="left:612.4px;top:1000.4px;transform:scaleX(0.948)">⌒</span>
<span class="e" style="left:638.1px;top:998.4px;transform:scaleX(1.662)">--</span>
<span style="left:692.3px;top:1000.4px;transform:scale(0.945,0.680)">ヽ</span>
<span style="left:711.1px;top:1000.4px;font-size:20.7px;letter-spacing:0.25px">:::::::::</span>
<span style="left:766.8px;top:1000.4px;font-size:23.5px;letter-spacing:6.19px;transform:scale(1.000,1.340) skewX(-12deg)">//</span>
<span style="left:786.9px;top:1000.4px;font-size:24.0px">.</span>
<span class="k" style="left:924.1px;top:1000.4px;transform:scaleX(1.032)">＼</span>
<span class="k" style="left:977.1px;top:1000.4px;transform:scaleX(1.043)">＼</span>
<span class="k" style="left:1087.1px;top:1000.4px;transform:scaleX(1.043)">＼</span>
<span style="left:303.1px;top:1027.5px;transform:scaleX(0.800)">|</span>
<span style="left:338.7px;top:1031.5px;font-size:23.5px;transform:scale(1.000,1.340) skewX(-17.3067deg)">/</span>
<span style="left:526.4px;top:1031.5px;transform:scale(0.808,0.680)">ヽ</span>
<span style="left:544.1px;top:1031.5px;font-size:20.7px">:</span>
<span style="left:551.3px;top:1028.5px;transform:scaleX(0.554)">_</span>
<span class="k" style="left:559.2px;top:1031.5px;transform:scaleX(0.966)">＼</span>
<span style="left:602.9px;top:1031.5px;font-size:24.0px">.</span>
<span style="left:610.9px;top:1031.5px;transform:scaleX(1.212);font-weight:300">ﾑ</span>
<span style="left:626.8px;top:1031.5px;transform:scaleX(0.875)">、</span>
<span style="left:638.3px;top:1028.5px;transform:scaleX(0.633)">__</span>
<span style="left:709.5px;top:1031.5px;transform:scaleX(1.119);font-weight:300">Ｖ</span>
<span style="left:735.2px;top:1028.5px;transform:scaleX(0.380)">__</span>
<span style="left:746.1px;top:1031.5px;font-size:20.7px">:</span>
<span style="left:754.8px;top:1031.5px;font-size:23.5px;letter-spacing:6.89px;transform:scale(1.000,1.340) skewX(-12deg)">//</span>
<span class="k" style="left:952.1px;top:1031.5px;transform:scaleX(1.043)">＼</span>
<span class="k" style="left:1005.8px;top:1031.5px">＼</span>
<span class="k" style="left:1115.8px;top:1031.5px">＼</span>
<span style="left:303.1px;top:1058.5px;transform:scaleX(0.800)">|</span>
<span style="left:311.1px;top:1062.5px;font-size:20.7px">:</span>
<span style="left:325.5px;top:1062.5px;font-size:23.5px;transform:scale(1.000,1.340) skewX(-18.2105deg)">/</span>
<span style="left:487.9px;top:1062.5px;font-size:24.0px">,</span>
<span style="left:514.0px;top:1062.5px;transform:scaleX(0.925)">＜</span>
<span style="left:535.9px;top:1062.5px;transform:scaleX(0.850)">ニ</span>
<span class="k" style="left:557.2px;top:1062.5px;transform:scaleX(0.966)">／</span>
<span style="left:585.1px;top:1058.5px;font-size:23.5px">′</span>
<span class="k" style="left:585.9px;top:1062.5px;transform:scaleX(0.966)">＼</span>
<span style="left:613.3px;top:1062.5px;transform:scaleX(1.053)">ﾉ</span>
<span style="left:633.3px;top:1059.5px;transform:scaleX(0.615)">_</span>
<span style="left:642.9px;top:1062.5px;font-size:24.0px">,</span>
<span style="left:692.7px;top:1057.5px;font-size:24.0px;transform:scaleX(0.690)">{</span>
<span style="left:699.7px;top:1057.5px;font-size:24.0px;transform:scaleX(0.690)">{</span>
<span style="left:700.1px;top:1062.5px;transform:scale(0.970,0.680)">ヽ</span>
<span style="left:723.1px;top:1062.5px;transform:scaleX(1.516);font-weight:300">ﾏ</span>
<span style="left:744.6px;top:1062.5px;transform:scaleX(0.832)">ニ</span>
<span style="left:767.1px;top:1062.5px;transform:scaleX(0.925)">＞</span>
<span class="m" style="left:793.0px;top:1062.5px;transform:scaleX(0.905)">＿</span>
<span style="left:974.0px;top:1062.5px;font-size:23.5px;transform:scale(1.000,1.340) skewX(-15.1637deg)">/</span>
<span style="left:979.3px;top:1062.5px;transform:scale(0.913,0.680)">ヽ</span>
<span style="left:1000.9px;top:1062.5px;font-size:24.0px">.</span>
<span style="left:1035.1px;top:1062.5px;transform:scale(0.808,0.680)">ヽ</span>
<span class="k" style="left:1144.1px;top:1062.5px;transform:scaleX(1.032)">＼</span>
<span style="left:303.1px;top:1089.5px;transform:scaleX(0.800)">|</span>
<span style="left:311.2px;top:1093.5px;font-size:23.5px;transform:scale(1.000,1.340) skewX(-14.2315deg)">/</span>
<span class="k" style="left:462.1px;top:1093.5px;transform:scaleX(1.043)">／</span>
<span style="left:489.6px;top:1093.5px;transform:scaleX(1.123)">ニ</span>
<span style="left:513.1px;top:1093.5px;transform:scaleX(1.123)">ニ</span>
<span style="left:545.7px;top:1093.5px;font-size:23.5px;transform:scale(1.000,1.340) skewX(-17.3067deg)">/</span>
<span style="left:557.0px;top:1090.5px;transform:scaleX(0.579)">__</span>
<span style="left:576.8px;top:1093.5px;transform:scaleX(1.364);font-weight:300">ｲ</span>
<span style="left:594.1px;top:1089.5px">´</span>
<span class="m" style="left:600.0px;top:1093.5px;transform:scaleX(1.086)">￣</span>
<span style="left:692.7px;top:1088.5px;font-size:24.0px;transform:scaleX(0.690)">{</span>
<span style="left:700.2px;top:1088.5px;font-size:24.0px;transform:scaleX(0.690)">{</span>
<span style="left:706.1px;top:1093.5px;font-size:20.7px">:</span>
<span style="left:713.1px;top:1093.5px;font-size:20.7px;letter-spacing:9.25px">::</span>
<span style="left:733.9px;top:1093.5px;font-size:24.0px">,</span>
<span style="left:737.9px;top:1093.5px;transform:scaleX(1.267)">ニ</span>
<span style="left:764.6px;top:1093.5px;transform:scaleX(1.267)">ニ</span>
<span style="left:791.3px;top:1093.5px;transform:scaleX(1.267)">ニ</span>
<span style="left:820.1px;top:1093.5px;transform:scaleX(0.925)">＞</span>
<span style="left:852.9px;top:1093.5px;font-size:24.0px">.</span>
<span style="left:860.4px;top:1093.5px;font-size:24.0px">,</span>
<span style="left:960.0px;top:1093.5px;font-size:23.5px;transform:scale(1.000,1.340) skewX(-21.1543deg)">/</span>
<span style="left:990.7px;top:1093.5px;font-size:23.5px;transform:scale(1.000,1.340) skewX(-17.3067deg)">/</span>
<span class="k" style="left:1060.8px;top:1093.5px">＼</span>
<span style="left:285.4px;top:1124.6px">〈</span>
<span class="k" style="left:310.9px;top:1124.6px;transform:scaleX(0.966)">＼</span>
<span class="k" style="left:435.8px;top:1124.6px">／</span>
<span style="left:461.3px;top:1124.6px;transform:scaleX(1.236)">ニ</span>
<span style="left:487.3px;top:1124.6px;transform:scaleX(1.236)">ニ</span>
<span style="left:513.3px;top:1124.6px;transform:scaleX(1.236)">ニ</span>
<span style="left:541.4px;top:1124.6px">に</span>
<span class="e" style="left:565.7px;top:1124.6px;font-size:23.5px;transform:scaleX(1.328)">„</span>
<span class="e" style="left:581.2px;top:1122.6px;transform:scaleX(1.556)">--</span>
<span style="left:618.8px;top:1124.6px;transform:scaleX(0.838)">、</span>
<span style="left:691.6px;top:1124.6px;transform:scaleX(1.053)">ゞ</span>
<span style="left:715.5px;top:1124.6px">=</span>
<span style="left:730.2px;top:1124.6px;transform:scaleX(0.930)">∧</span>
<span style="left:755.1px;top:1124.6px">＜</span>
<span style="left:779.3px;top:1124.6px;transform:scaleX(1.221)">ニ</span>
<span style="left:805.0px;top:1124.6px;transform:scaleX(1.221)">ニ</span>
<span style="left:830.7px;top:1124.6px;transform:scaleX(1.221)">ニ</span>
<span style="left:864.0px;top:1124.6px;font-size:23.5px;transform:scale(1.000,1.340) skewX(-15.1637deg)">/</span>
<span style="left:979.1px;top:1120.6px;font-size:23.5px">′</span>
<span class="k" style="left:1089.1px;top:1124.6px;transform:scaleX(1.032)">＼</span>
<span class="k" style="left:310.9px;top:1155.7px;transform:scaleX(0.966)">＼</span>
<span class="k" style="left:336.1px;top:1155.7px">＼</span>
<span style="left:408.5px;top:1155.7px;transform:scaleX(1.163)">∠</span>
<span style="left:434.5px;top:1155.7px;transform:scaleX(1.145)">ニ</span>
<span style="left:458.5px;top:1155.7px;transform:scaleX(1.145)">ニ</span>
<span style="left:482.5px;top:1155.7px;transform:scaleX(1.145)">ニ</span>
<span class="k" style="left:512.2px;top:1155.7px;transform:scaleX(0.966)">／</span>
<span style="left:545.2px;top:1152.7px;transform:scaleX(0.431)">_</span>
<span style="left:555.7px;top:1155.7px;font-size:23.5px;transform:scale(1.000,1.340) skewX(-17.3067deg)">/</span>
<span class="k" style="left:625.8px;top:1155.7px">＼</span>
<span style="left:708.4px;top:1155.7px;font-size:24.0px;transform:scaleX(1.094)">r</span>
<span style="left:720.7px;top:1155.7px;font-size:23.5px;transform:scale(1.000,1.340) skewX(-17.3067deg)">/</span>
<span style="left:735.5px;top:1155.7px;transform:scaleX(1.161)">ハ</span>
<span style="left:798.9px;top:1155.7px">＜</span>
<span style="left:824.6px;top:1155.7px;transform:scaleX(0.832)">ニ</span>
<span style="left:842.9px;top:1155.7px;font-size:24.0px">,</span>
<span style="left:850.7px;top:1155.7px;font-size:23.5px;transform:scale(1.000,1.340) skewX(-17.3067deg)">/</span>
<span class="k" style="left:912.1px;top:1155.7px;transform:scaleX(1.043)">／</span>
<span style="left:947.0px;top:1155.7px;transform:scaleX(1.091)">ｲ</span>
<span class="k" style="left:1119.1px;top:1155.7px;transform:scaleX(1.032)">＼</span>
<span style="left:332.7px;top:1181.7px;font-size:24.0px;transform:scaleX(0.690)">}</span>
<span class="k" style="left:339.2px;top:1186.7px;transform:scaleX(0.966)">＼</span>
<span class="k" style="left:364.1px;top:1186.7px;transform:scaleX(1.032)">＼</span>
<span style="left:438.9px;top:1182.7px;font-size:24.0px">`</span>
<span style="left:445.1px;top:1186.7px;transform:scale(0.970,0.680)">ヽ</span>
<span style="left:466.1px;top:1186.7px;transform:scaleX(0.773)">ニ</span>
<span class="k" style="left:485.9px;top:1186.7px;transform:scaleX(0.966)">／</span>
<span style="left:529.0px;top:1186.7px;transform:scaleX(0.855)">八</span>
<span style="left:554.2px;top:1186.7px;transform:scaleX(1.349);font-weight:300">ﾑ</span>
<span style="left:652.9px;top:1186.7px;font-size:24.0px">,</span>
<span style="left:655.1px;top:1186.7px;transform:scale(0.808,0.680)">ヽ</span>
<span style="left:707.5px;top:1186.7px;font-size:23.5px;transform:scale(1.000,1.340) skewX(-16.394deg)">/</span>
<span style="left:726.8px;top:1186.7px;font-size:23.5px;letter-spacing:8.19px;transform:scale(1.000,1.340) skewX(-12deg)">//</span>
<span style="left:750.2px;top:1186.7px;transform:scaleX(0.930)">∧</span>
<span style="left:831.9px;top:1182.7px;font-size:24.0px">`</span>
<span class="k" style="left:884.1px;top:1186.7px;transform:scaleX(1.032)">／</span>
<span class="k" style="left:910.8px;top:1186.7px">／</span>
<span style="left:946.5px;top:1186.7px;font-size:24.0px">i</span>
<span style="left:952.7px;top:1181.7px;font-size:24.0px;transform:scaleX(0.690)">{</span>
<span class="k" style="left:1147.1px;top:1186.7px;transform:scaleX(1.043)">＼</span>
<span style="left:323.3px;top:1217.8px;transform:scaleX(1.053)">ﾉ</span>
<span style="left:335.8px;top:1213.8px;font-size:23.5px">′</span>
<span class="k" style="left:369.2px;top:1217.8px;transform:scaleX(0.966)">＼</span>
<span class="k" style="left:394.1px;top:1217.8px;transform:scaleX(1.032)">＼</span>
<span class="k" style="left:500.9px;top:1217.8px;transform:scaleX(0.966)">／</span>
<span style="left:529.7px;top:1217.8px;font-size:23.5px;transform:scale(1.000,1.340) skewX(-11.0702deg)">/</span>
<span style="left:537.9px;top:1217.8px;font-size:24.0px">,</span>
<span style="left:542.5px;top:1217.8px;transform:scaleX(0.837)">∧</span>
<span style="left:565.7px;top:1217.8px;transform:scaleX(1.616);font-weight:300">ﾑ</span>
<span style="left:630.4px;top:1217.8px;transform:scaleX(1.579);font-weight:300">ﾉ</span>
<span style="left:660.7px;top:1217.8px;font-size:23.5px;transform:scale(1.000,1.340) skewX(-17.3067deg)">/</span>
<span style="left:670.9px;top:1217.8px">ゝ</span>
<span style="left:694.1px;top:1213.8px;font-size:23.5px">′</span>
<span style="left:713.5px;top:1217.8px;font-size:23.5px;letter-spacing:7.16px;transform:scale(1.000,1.340) skewX(-12deg)">/////</span>
<span class="k" style="left:775.8px;top:1217.8px">＼</span>
<span class="k" style="left:855.8px;top:1217.8px">／</span>
<span class="k" style="left:884.1px;top:1217.8px;transform:scaleX(1.032)">／</span>
<span style="left:942.9px;top:1217.8px;font-size:24.0px">.</span>
<span style="left:948.5px;top:1217.8px;font-size:24.0px">i</span>
<span style="left:952.7px;top:1212.8px;font-size:24.0px;transform:scaleX(0.690)">}</span>
<span style="left:310.9px;top:1248.8px;transform:scaleX(0.896)">人</span>
<span style="left:333.9px;top:1248.8px;font-size:24.0px">.</span>
<span class="k" style="left:395.9px;top:1248.8px;transform:scaleX(0.966)">＼</span>
<span class="k" style="left:420.8px;top:1248.8px">＼</span>
<span style="left:447.1px;top:1248.8px;font-size:24.0px;transform:scaleX(1.257)">r</span>
<span style="left:465.6px;top:1248.8px;transform:scaleX(0.788)">、</span>
<span style="left:488.5px;top:1248.8px;font-size:23.5px;letter-spacing:7.08px;transform:scale(1.000,1.340) skewX(-12deg)">//////</span>
<span style="left:564.2px;top:1248.8px;transform:scaleX(0.885)">乂</span>
<span style="left:586.3px;top:1248.8px;transform:scaleX(0.748)">ゝ</span>
<span style="left:610.8px;top:1244.8px">´</span>
<span style="left:623.3px;top:1245.8px;transform:scaleX(0.535)">_</span>
<span style="left:629.3px;top:1248.8px;transform:scale(0.913,0.680)">ヽ</span>
<span style="left:649.7px;top:1243.8px;font-size:24.0px;transform:scaleX(0.690)">{</span>
<span class="k" style="left:654.2px;top:1248.8px;transform:scaleX(0.966)">／</span>
<span class="k" style="left:685.9px;top:1248.8px;transform:scaleX(0.966)">／</span>
<span style="left:713.5px;top:1248.8px;font-size:23.5px;letter-spacing:6.48px;transform:scale(1.000,1.340) skewX(-12deg)">///////</span>
<span style="left:797.9px;top:1248.8px;font-size:24.0px">,</span>
<span class="k" style="left:804.2px;top:1248.8px;transform:scaleX(0.966)">＼</span>
<span class="k" style="left:829.1px;top:1248.8px;transform:scaleX(1.032)">／</span>
<span class="k" style="left:857.2px;top:1248.8px;transform:scaleX(0.966)">／</span>
<span style="left:942.9px;top:1248.8px;font-size:24.0px">.</span>
<span style="left:948.5px;top:1248.8px;font-size:24.0px">i</span>
<span style="left:952.7px;top:1243.8px;font-size:24.0px;transform:scaleX(0.690)">}</span>
<span style="left:340.1px;top:1279.9px;transform:scale(0.808,0.680)">ヽ</span>
<span style="left:420.1px;top:1279.9px;transform:scale(0.970,0.680)">ヽ</span>
<span style="left:439.8px;top:1279.9px;transform:scaleX(1.189);font-weight:300">ﾉ</span>
<span style="left:464.7px;top:1274.9px;font-size:24.0px;transform:scaleX(0.690)">}</span>
<span style="left:473.5px;top:1279.9px;font-size:23.5px;letter-spacing:6.98px;transform:scale(1.000,1.340) skewX(-12deg)">/////////</span>
<span style="left:587.9px;top:1279.9px;font-size:24.0px">,</span>
<span style="left:593.8px;top:1279.9px;transform:scaleX(0.925)">＞</span>
<span style="left:626.5px;top:1279.9px;font-size:24.0px;transform:scaleX(0.684)">.._</span>
<span style="left:645.9px;top:1279.9px;font-size:24.0px;transform:scaleX(0.746)">7</span>
<span style="left:658.9px;top:1279.9px">＜</span>
<span style="left:686.8px;top:1279.9px;font-size:23.5px;letter-spacing:6.75px;transform:scale(1.000,1.340) skewX(-12deg)">///////////</span>
<span style="left:825.1px;top:1279.9px;transform:scale(0.808,0.680)">ヽ</span>
<span style="left:847.8px;top:1274.9px;font-size:24.0px;transform:scaleX(0.648)">}</span>
<span style="left:853.1px;top:1274.9px;font-size:24.0px;transform:scaleX(0.648)">}</span>
<span style="left:948.5px;top:1279.9px;font-size:24.0px">i</span>
<span style="left:952.7px;top:1274.9px;font-size:24.0px;transform:scaleX(0.690)">}</span>
</div>
</body>
</html>
